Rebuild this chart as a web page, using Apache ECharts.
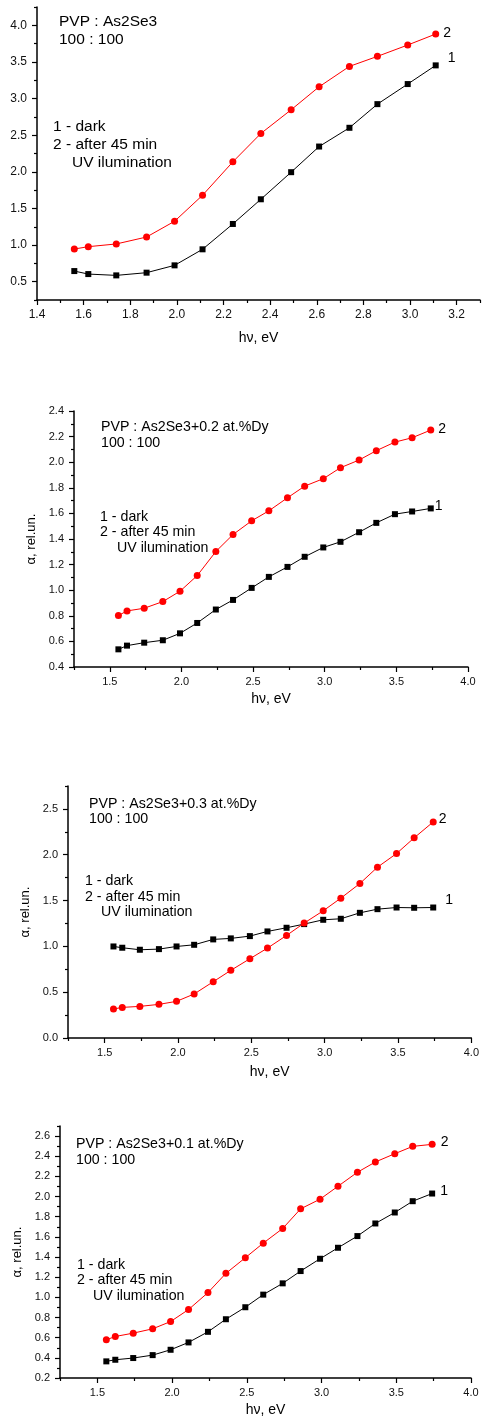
<!DOCTYPE html>
<html>
<head>
<meta charset="utf-8">
<script src="https://cdn.jsdelivr.net/npm/echarts@6/dist/echarts.min.js"></script>
<style>
html,body{margin:0;padding:0;background:#fff;}
#chart{width:482px;height:1418px;}
</style>
</head>
<body>
<div id="chart"></div>
<script>
// ---- data ----
const energy = [1.56,1.62,1.74,1.87,1.99,2.11,2.24,2.36,2.49,2.61,2.74,2.86,2.99,3.11,3.24,3.36,3.49,3.61,3.74];

const p1Dark = [0.645,0.604,0.586,0.623,0.723,0.942,1.288,1.625,1.995,2.345,2.601,2.924,3.198,3.453];
const p1UV   = [0.946,0.978,1.015,1.110,1.325,1.680,2.136,2.523,2.847,3.161,3.439,3.576,3.731,3.881];

const p2Dark = [0.538,0.567,0.590,0.609,0.663,0.744,0.849,0.924,1.018,1.104,1.182,1.261,1.334,1.378,1.453,1.526,1.594,1.615,1.639];
const p2UV   = [0.802,0.838,0.859,0.911,0.992,1.114,1.302,1.435,1.542,1.620,1.722,1.813,1.871,1.957,2.017,2.090,2.157,2.191,2.251];

const p3Dark = [0.999,0.985,0.963,0.970,0.999,1.017,1.076,1.087,1.112,1.163,1.203,1.243,1.290,1.301,1.366,1.406,1.424,1.421,1.424];
const p3UV   = [0.316,0.334,0.345,0.367,0.400,0.480,0.614,0.738,0.865,0.981,1.119,1.254,1.388,1.526,1.686,1.864,2.013,2.184,2.358];

const p4Dark = [0.365,0.381,0.398,0.427,0.480,0.553,0.658,0.783,0.902,1.027,1.139,1.261,1.383,1.492,1.608,1.733,1.842,1.954,2.030];
const p4UV   = [0.579,0.612,0.645,0.688,0.760,0.879,1.047,1.238,1.393,1.538,1.683,1.878,1.974,2.102,2.241,2.343,2.425,2.498,2.518];

// tick values
const p1XMajor = [1.4,1.6,1.8,2.0,2.2,2.4,2.6,2.8,3.0,3.2];
const p1XMinor = [1.5,1.7,1.9,2.1,2.3,2.5,2.7,2.9,3.1,3.3];
const p1YMajor = [0.5,1.0,1.5,2.0,2.5,3.0,3.5,4.0];
const p1YMinor = [0.25,0.75,1.25,1.75,2.25,2.75,3.25,3.75,4.25];

const xMajor = [1.5,2.0,2.5,3.0,3.5,4.0];
const xMinor = [1.25,1.75,2.25,2.75,3.25,3.75];

const p2YMajor = [0.4,0.6,0.8,1.0,1.2,1.4,1.6,1.8,2.0,2.2,2.4];
const p2YMinor = [0.5,0.7,0.9,1.1,1.3,1.5,1.7,1.9,2.1,2.3];
const p3YMajor = [0.0,0.5,1.0,1.5,2.0,2.5];
const p3YMinor = [0.25,0.75,1.25,1.75,2.25,2.75];
const p4YMajor = [0.2,0.4,0.6,0.8,1.0,1.2,1.4,1.6,1.8,2.0,2.2,2.4,2.6];
const p4YMinor = [0.3,0.5,0.7,0.9,1.1,1.3,1.5,1.7,1.9,2.1,2.3,2.5,2.7];

const xName = 'h\u03bd, eV';
const yName = '\u03b1, rel.un.';
const labels = {
  p1: ['PVP : As2Se3', '100 : 100', '1 - dark', '2 - after 45 min', 'UV ilumination'],
  p2: ['PVP : As2Se3+0.2 at.%Dy', '100 : 100', '1 - dark', '2 - after 45 min', 'UV ilumination'],
  p3: ['PVP : As2Se3+0.3 at.%Dy', '100 : 100', '1 - dark', '2 - after 45 min', 'UV ilumination'],
  p4: ['PVP : As2Se3+0.1 at.%Dy', '100 : 100', '1 - dark', '2 - after 45 min', 'UV ilumination']
};

// ---- layout ----
const FONT = '"Liberation Sans", Arial, sans-serif';
const panels = [
  {grid:{left:37, top:7, width:443, height:293}, xr:[1.4,3.3], yr:[0.25,4.25], xMaj:p1XMajor, xMin:p1XMinor, yMaj:p1YMajor, yMin:p1YMinor,
   dark:p1Dark, uv:p1UV, tickFont:12, xGap:31, yName:'', yGap:34, txt:labels.p1, tFont:15.5,
   tpos:[[59,22],[59,40],[53,127],[53,145],[72,163]], off2:[-1,-1], off1:[4,-7]},
  {grid:{left:74, top:411, width:394, height:256}, xr:[1.25,4.0], yr:[0.4,2.4], xMaj:xMajor, xMin:xMinor, yMaj:p2YMajor, yMin:p2YMinor,
   dark:p2Dark, uv:p2UV, tickFont:11, xGap:25, yName:yName, yGap:34, txt:labels.p2, tFont:14.2,
   tpos:[[101,427],[101,443],[100,517],[100,532],[117,548]], off2:[-1,-1], off1:[-4,-2]},
  {grid:{left:68, top:786, width:409, height:252}, xr:[1.25,4.0], yr:[0,2.75], xMaj:xMajor, xMin:xMinor, yMaj:p3YMajor, yMin:p3YMinor,
   dark:p3Dark, uv:p3UV, tickFont:11, xGap:27, yName:yName, yGap:34, txt:labels.p3, tFont:14.2,
   tpos:[[89,804],[89,819],[85,881],[85,897],[101,912]], off2:[-3,-3], off1:[4,-7]},
  {grid:{left:60, top:1126, width:411, height:254}, xr:[1.25,4.0], yr:[0.2,2.7], xMaj:xMajor, xMin:xMinor, yMaj:p4YMajor, yMin:p4YMinor,
   dark:p4Dark, uv:p4UV, tickFont:11, xGap:25, yName:yName, yGap:35, txt:labels.p4, tFont:14.2,
   tpos:[[76,1144],[76,1160],[77,1265],[77,1280],[93,1296]], off2:[0,-2], off1:[0,-2]}
];

const grids = [], xAxes = [], yAxes = [], series = [], graphics = [];
const axisLine = {show:true, onZero:false, lineStyle:{color:'#000', width:1.5}};

panels.forEach((p, i) => {
  grids.push(Object.assign({containLabel:false}, p.grid));
  // main axes (index i), minor-tick axes (index i+4)
  xAxes[i] = {
    type:'value', gridIndex:i, min:p.xr[0], max:p.xr[1], position:'bottom',
    axisLine, splitLine:{show:false},
    axisTick:{show:true, inside:false, length:5, customValues:p.xMaj, lineStyle:{color:'#000', width:1.2}},
    axisLabel:{customValues:p.xMaj, formatter:v=>v.toFixed(1), fontSize:p.tickFont, fontFamily:FONT, color:'#111', margin:9},
    name:xName, nameLocation:'middle', nameGap:p.xGap, nameTextStyle:{fontSize:14, fontFamily:FONT, color:'#000'}
  };
  xAxes[i+4] = {
    type:'value', gridIndex:i, min:p.xr[0], max:p.xr[1], position:'bottom',
    axisLine:{show:false}, splitLine:{show:false}, axisLabel:{show:false},
    axisTick:{show:true, inside:false, length:3, customValues:p.xMin, lineStyle:{color:'#000', width:1.2}}
  };
  yAxes[i] = {
    type:'value', gridIndex:i, min:p.yr[0], max:p.yr[1], position:'left',
    axisLine, splitLine:{show:false},
    axisTick:{show:true, inside:false, length:5, customValues:p.yMaj, lineStyle:{color:'#000', width:1.2}},
    axisLabel:{customValues:p.yMaj, formatter:v=>v.toFixed(1), fontSize:p.tickFont, fontFamily:FONT, color:'#111', margin:10},
    name:p.yName, nameLocation:'middle', nameGap:p.yGap, nameTextStyle:{fontSize:13, fontFamily:FONT, color:'#000'}
  };
  yAxes[i+4] = {
    type:'value', gridIndex:i, min:p.yr[0], max:p.yr[1], position:'left',
    axisLine:{show:false}, splitLine:{show:false}, axisLabel:{show:false},
    axisTick:{show:true, inside:false, length:3, customValues:p.yMin, lineStyle:{color:'#000', width:1.2}}
  };

  const mk = (arr, name, off) => arr.map((v, k) => {
    if (k === arr.length - 1) {
      return {value:[energy[k], v], label:{show:true, formatter:name, position:'right', offset:off,
        fontSize:14, fontFamily:FONT, color:'#000'}};
    }
    return [energy[k], v];
  });

  series.push({
    type:'line', xAxisIndex:i, yAxisIndex:i, data:mk(p.dark, '1', p.off1),
    symbol:'rect', symbolSize:6, showSymbol:true,
    lineStyle:{color:'#000', width:1}, itemStyle:{color:'#000'}, z:2
  });
  series.push({
    type:'line', xAxisIndex:i, yAxisIndex:i, data:mk(p.uv, '2', p.off2),
    symbol:'circle', symbolSize:7, showSymbol:true,
    lineStyle:{color:'#ff0000', width:1}, itemStyle:{color:'#ff0000'}, z:3
  });

  p.txt.forEach((t, k) => {
    graphics.push({type:'text', x:p.tpos[k][0], y:p.tpos[k][1], z:10,
      style:{text:t, fontSize:p.tFont, fontFamily:FONT, fill:'#000', align:'left', verticalAlign:'middle'}});
  });
});

const chart = echarts.init(document.getElementById('chart'), null, {renderer:'canvas'});
chart.setOption({
  animation:false,
  backgroundColor:'#fff',
  grid:grids, xAxis:xAxes, yAxis:yAxes, series, graphic:graphics
});
</script>
</body>
</html>
